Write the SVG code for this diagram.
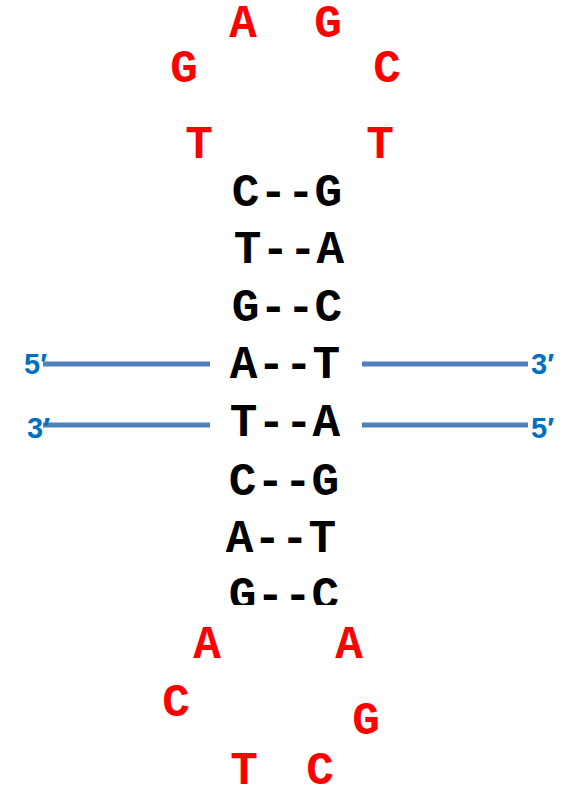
<svg xmlns="http://www.w3.org/2000/svg" width="563" height="798" viewBox="0 0 563 798">
<style>
.b{font-family:"Liberation Mono","Courier New",monospace;font-weight:bold;font-size:46px;text-anchor:middle;fill:#000}
.r{font-family:"Liberation Mono","Courier New",monospace;font-weight:bold;font-size:46px;text-anchor:middle;fill:#FF0000}
.p{font-family:"Liberation Sans",Arial,sans-serif;font-weight:bold;font-size:29px;fill:#0070C0}
.s{stroke:#4F81BD;stroke-width:5;fill:none}
</style>
<defs><clipPath id="cl"><rect x="0" y="0" width="563" height="605"/></clipPath></defs>
<rect width="563" height="798" fill="#fff"/>
<g id="loop-top">
<text class="r" x="243" y="37">A</text>
<text class="r" x="328" y="37">G</text>
<text class="r" x="184" y="82">G</text>
<text class="r" x="387" y="82">C</text>
<text class="r" x="199" y="158">T</text>
<text class="r" x="380" y="158">T</text>
</g>
<g id="stem">
<text class="b" x="287" y="206">C--G</text>
<text class="b" x="289" y="263">T--A</text>
<text class="b" x="287" y="321">G--C</text>
<text class="b" x="285" y="378">A--T</text>
<text class="b" x="285" y="436">T--A</text>
<text class="b" x="284" y="495">C--G</text>
<text class="b" x="281" y="552">A--T</text>
<text class="b" x="284" y="609" clip-path="url(#cl)">G--C</text>
</g>
<g id="loop-bottom">
<text class="r" x="207" y="658">A</text>
<text class="r" x="349" y="658">A</text>
<text class="r" x="176" y="716">C</text>
<text class="r" x="366" y="734">G</text>
<text class="r" x="244" y="784">T</text>
<text class="r" x="320" y="784">C</text>
</g>
<g id="connectors">
<line class="s" x1="43" y1="364" x2="210" y2="364"/>
<line class="s" x1="43" y1="425" x2="210" y2="425"/>
<line class="s" x1="362" y1="364" x2="528" y2="364"/>
<line class="s" x1="362" y1="425" x2="528" y2="425"/>
</g>
<g id="ends">
<text class="p" x="24" y="374">5′</text>
<text class="p" x="27" y="438">3′</text>
<text class="p" x="531" y="374">3′</text>
<text class="p" x="531" y="438">5′</text>
</g>
</svg>
